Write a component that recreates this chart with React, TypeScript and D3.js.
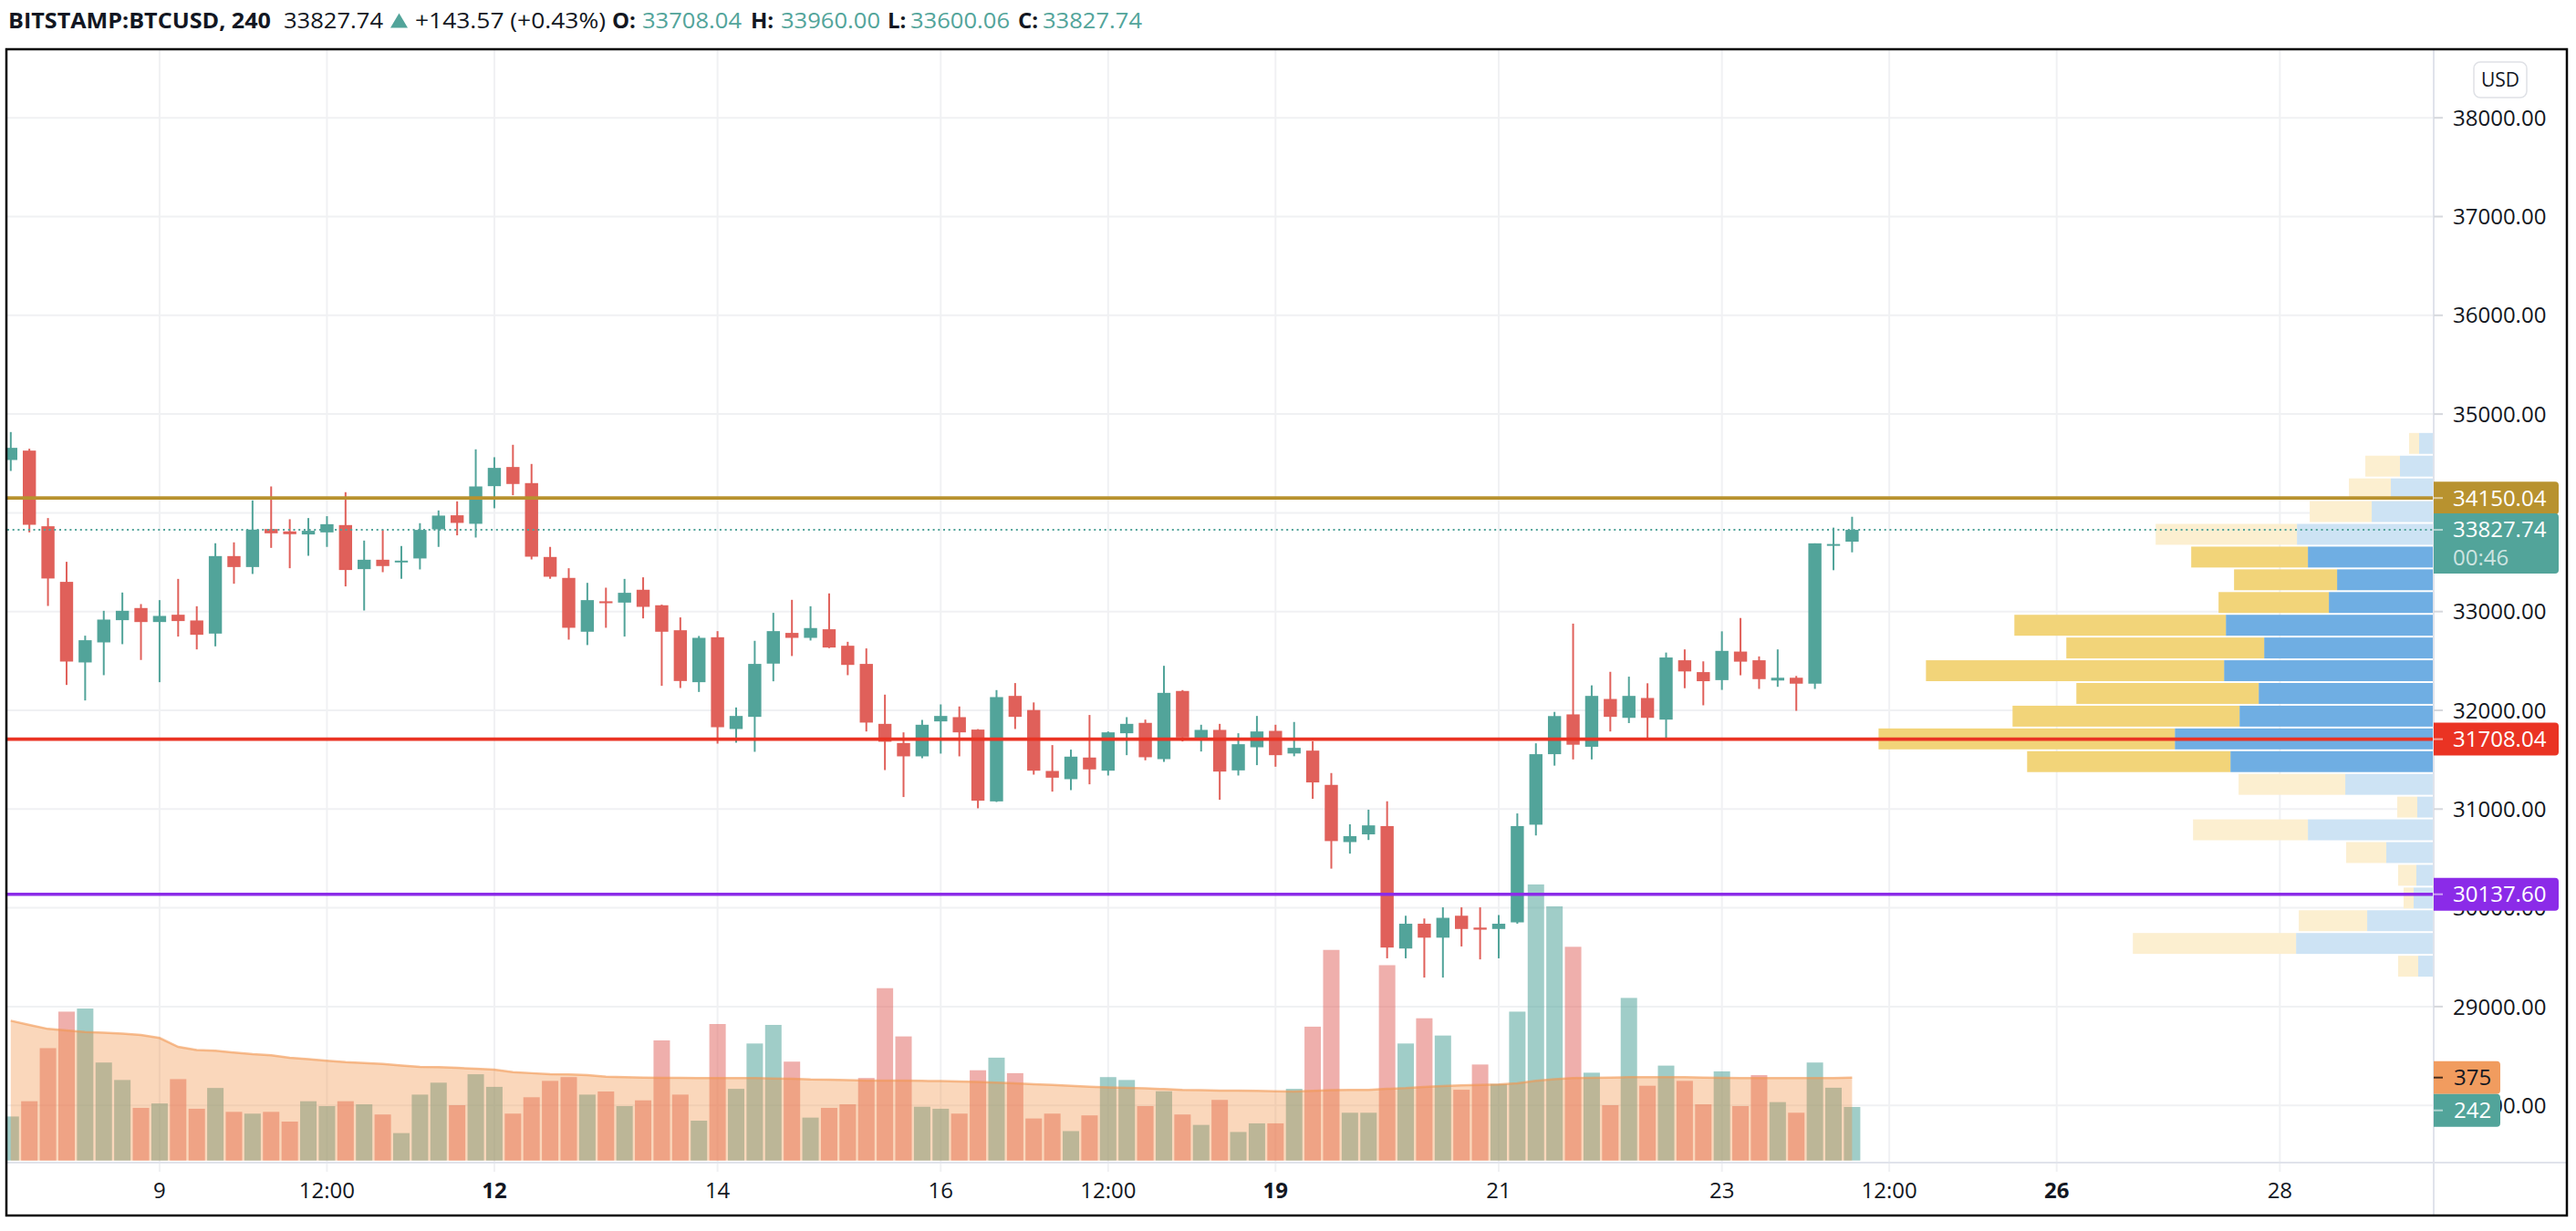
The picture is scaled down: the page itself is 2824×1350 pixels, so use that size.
import React from 'react';
import * as d3 from 'd3';

// ---------- DATA (4h BTCUSD bars, Bitstamp) ----------
const FIRST_BAR = new Date(2021, 5, 7, 16, 0);
const BAR_MS = 4 * 3600 * 1000;

const OPEN = [
  34535, 34630, 33864, 33301, 32485, 32688, 32913, 33036, 32894, 32968,
  32910, 32777, 33562, 33451, 33836, 33812, 33781, 33802, 33876, 33430,
  33525, 33501, 33538, 33833, 33975, 33889, 34270, 34464, 34301, 33553,
  33341, 32796, 33104, 33091, 33221, 33064, 32811, 32285, 32740, 31811,
  31934, 32473, 32784, 32734, 32821, 32654, 32470, 31863, 31669, 31534,
  31888, 31931, 31805, 31078, 32146, 32003, 31386, 31303, 31522, 31389,
  31768, 31873, 31506, 32196, 31722, 31802, 31392, 31626, 31792, 31563,
  31592, 31245, 30666, 30744, 30828, 29588, 29839, 29698, 29920, 29800,
  29786, 29853, 30842, 31556, 31959, 31631, 32115, 31924, 32125, 31906,
  32507, 32387, 32306, 32595, 32507, 32302, 32330, 32270, 33668, 33708.04,
];
const HIGH = [
  34818, 34649, 33947, 33504, 32756, 33008, 33193, 33076, 33116, 33331,
  33054, 33692, 33701, 34126, 34267, 33935, 33947, 33966, 34209, 33719,
  33827, 33664, 33895, 34024, 34116, 34643, 34563, 34689, 34495, 33655,
  33439, 33291, 33242, 33331, 33347, 33070, 32941, 32753, 32802, 32029,
  32704, 32987, 33119, 33054, 33184, 32694, 32627, 32159, 31777, 31903,
  32060, 32039, 31810, 32205, 32276, 32080, 31648, 31602, 31953, 31786,
  31931, 31906, 32451, 32205, 31854, 31863, 31768, 31943, 31854, 31882,
  31687, 31365, 30846, 30994, 31079, 29920, 29892, 30005, 30005, 30005,
  29927, 30956, 31666, 31984, 32878, 32253, 32390, 32341, 32274, 32585,
  32617, 32496, 32800, 32935, 32546, 32617, 32348, 33691, 33850, 33960.0,
];
const LOW = [
  34424, 33802, 33057, 32257, 32100, 32356, 32670, 32510, 32285, 32747,
  32617, 32648, 33282, 33381, 33645, 33439, 33565, 33655, 33255, 33011,
  33399, 33332, 33427, 33655, 33772, 33750, 34046, 34178, 33528, 33332,
  32716, 32661, 32836, 32747, 32931, 32248, 32226, 32186, 31663, 31672,
  31580, 32294, 32550, 32707, 32630, 32356, 31786, 31395, 31122, 31515,
  31562, 31534, 31008, 31072, 31811, 31349, 31177, 31192, 31251, 31340,
  31546, 31494, 31478, 31685, 31583, 31094, 31340, 31445, 31429, 31535,
  31104, 30397, 30549, 30687, 29489, 29489, 29294, 29294, 29609, 29478,
  29489, 29839, 30733, 31440, 31503, 31503, 31786, 31871, 31705, 31719,
  32224, 32051, 32207, 32355, 32217, 32238, 31995, 32217, 33419, 33600.06,
];
const CLOSE = [
  34658, 33879, 33335, 32494, 32710, 32919, 33008, 32894, 32956, 32904,
  32765, 33562, 33451, 33830, 33793, 33784, 33818, 33885, 33421, 33525,
  33461, 33516, 33827, 33972, 33898, 34267, 34455, 34292, 33556, 33353,
  32836, 33116, 33085, 33190, 33048, 32796, 32297, 32734, 31829, 31943,
  32470, 32802, 32734, 32833, 32636, 32460, 31876, 31682, 31534, 31854,
  31943, 31777, 31085, 32134, 31934, 31389, 31318, 31531, 31402, 31777,
  31863, 31525, 32177, 31725, 31802, 31380, 31657, 31786, 31546, 31620,
  31270, 30676, 30726, 30835, 29598, 29839, 29698, 29899, 29786, 29779,
  29839, 30828, 31556, 31942, 31652, 32146, 31934, 32146, 31924, 32535,
  32394, 32295, 32602, 32493, 32316, 32330, 32270, 33691, 33684.17, 33827.74,
];
const VOLUME = [
  199, 268, 508, 673, 687, 443, 364, 238, 258, 368,
  234, 328, 220, 212, 220, 176, 268, 246, 268, 254,
  208, 124, 298, 352, 250, 390, 333, 212, 286, 360,
  377, 298, 312, 246, 272, 543, 298, 180, 617, 324,
  529, 613, 447, 194, 238, 254, 373, 779, 561, 243,
  234, 212, 408, 465, 395, 190, 212, 133, 204, 377,
  364, 246, 313, 208, 161, 274, 129, 168, 168, 324,
  605, 952, 216, 216, 883, 529, 643, 565, 320, 434,
  346, 673, 1248, 1149, 966, 397, 250, 735, 338, 429,
  360, 254, 403, 246, 386, 264, 216, 443, 329, 242,
];
const VOLUME_MA = [
  632, 613, 595, 588, 581, 578, 574, 568, 554, 514,
  500, 496, 488, 481, 476, 465, 458, 451, 445, 441,
  437, 430, 423, 422, 419, 415, 411, 400, 395, 390,
  389, 386, 379, 377, 375, 374, 374, 373, 373, 373,
  373, 371, 370, 367, 366, 364, 362, 362, 362, 360,
  359, 357, 355, 352, 349, 345, 342, 338, 334, 331,
  329, 326, 323, 319, 318, 316, 316, 315, 313, 312,
  315, 318, 319, 319, 324, 327, 333, 337, 340, 342,
  344, 349, 360, 368, 373, 374, 375, 377, 377, 377,
  377, 375, 374, 373, 373, 373, 373, 373, 373, 375,
];
// Volume profile, rows from the highest price bin to the lowest
const PROFILE_UP = [15, 36, 46, 67, 149, 137, 105, 114, 227, 185, 229, 191, 212, 283, 222, 96, 17, 137, 51, 18, 21, 72, 150, 16];
const PROFILE_DOWN = [11, 38, 46, 68, 155, 128, 113, 121, 232, 217, 327, 200, 249, 325, 223, 117, 22, 126, 44, 20, 11, 75, 179, 22];
const VALUE_AREA_ROWS = [5, 14];

const PRICE_TICKS = [38000, 37000, 36000, 35000, 34000, 33000, 32000, 31000, 30000, 29000, 28000];
const TIME_TICKS = [
  { label: '9', date: new Date(2021, 5, 9, 0), bold: false },
  { label: '12:00', date: new Date(2021, 5, 10, 12), bold: false },
  { label: '12', date: new Date(2021, 5, 12, 0), bold: true },
  { label: '14', date: new Date(2021, 5, 14, 0), bold: false },
  { label: '16', date: new Date(2021, 5, 16, 0), bold: false },
  { label: '12:00', date: new Date(2021, 5, 17, 12), bold: false },
  { label: '19', date: new Date(2021, 5, 19, 0), bold: true },
  { label: '21', date: new Date(2021, 5, 21, 0), bold: false },
  { label: '23', date: new Date(2021, 5, 23, 0), bold: false },
  { label: '12:00', date: new Date(2021, 5, 24, 12), bold: false },
  { label: '26', date: new Date(2021, 5, 26, 0), bold: true },
  { label: '28', date: new Date(2021, 5, 28, 0), bold: false },
];
const LEVEL_PRICES = [34150.04, 31708.04, 30137.6];
const LEVEL_COLORS = ['#b8922f', '#ea3323', '#8b2be8'];
const SYMBOL = 'BITSTAMP:BTCUSD, 240';
const CHANGE = '+143.57 (+0.43%)';
const COUNTDOWN = '00:46';

// ---------- STYLE ----------
const TEAL = '#52a49a';
const RED = '#e0605a';
const DARK = '#131722';
const GRID = '#f0f1f3';
const AXIS_LINE = '#e0e3eb';
const FONT = "'Open Sans', 'Noto Sans', 'DejaVu Sans', sans-serif";

function rightRounded(x0: number, y0: number, w: number, h: number, r: number) {
  return `M${x0},${y0}H${x0 + w - r}Q${x0 + w},${y0} ${x0 + w},${y0 + r}V${y0 + h - r}Q${x0 + w},${y0 + h} ${x0 + w - r},${y0 + h}H${x0}Z`;
}

export default function App() {
  const times = CLOSE.map((_, i) => new Date(FIRST_BAR.getTime() + i * BAR_MS));
  const x = d3.scaleTime().domain([times[0], times[times.length - 1]]).range([11.8, 2030.4]);
  const y = d3.scaleLinear().domain([28000, 38000]).range([1212.2, 129.2]);
  const vy = d3.scaleLinear().domain([0, 1000]).range([1272.7, 1030.1]);

  const pane = { left: 8, top: 55, right: 2667, bottom: 1274 };
  const axisX = 2668;
  const frame = { left: 7, top: 54, right: 2814, bottom: 1333 };
  const bodyW = 14.4;
  const volW = 18;

  const area = d3.area<number>().x((_, i) => x(times[i])).y0(vy(0)).y1((d) => vy(d));
  const maLine = d3.line<number>().x((_, i) => x(times[i])).y((d) => vy(d));

  // volume profile
  const pHigh = d3.max(HIGH) as number;
  const pLow = d3.min(LOW) as number;
  const nRows = PROFILE_UP.length;
  const step = (pHigh - pLow) / nRows;
  const totals = PROFILE_UP.map((u, i) => u + PROFILE_DOWN[i]);
  const pw = d3.scaleLinear().domain([0, d3.max(totals) as number]).range([0, 607.6]);

  const lastClose = CLOSE[CLOSE.length - 1];
  const lastVol = VOLUME[VOLUME.length - 1];
  const lastMA = VOLUME_MA[VOLUME_MA.length - 1];
  const boxW = 137;
  const boxH = 36;
  const volBoxW = 73;
  const yMA = vy(lastMA);
  const yVol = Math.max(vy(lastVol), yMA + boxH);

  // label boxes on the price axis: [top, bottom]
  const boxes: [number, number][] = [
    ...LEVEL_PRICES.map((p) => [y(p) - boxH / 2, y(p) + boxH / 2] as [number, number]),
    [y(lastClose) - boxH / 2, y(lastClose) - boxH / 2 + 66],
  ];
  const covered = (v: number) => boxes.some(([bt, bb]) => v >= bt - 0.5 && v <= bb + 0.5);
  // tick labels completely hidden behind the label boxes are not drawn
  const visibleTicks = PRICE_TICKS.filter((p) => !(covered(y(p) - 9) && covered(y(p)) && covered(y(p) + 9)));

  const fmt = d3.format('.2f');

  return (
    <svg width={2824} height={1350} style={{ position: 'absolute', left: 0, top: 0, display: 'block', background: '#fff' }}
      fontFamily={FONT}>
      <defs>
        <clipPath id="pane">
          <rect x={pane.left} y={pane.top} width={pane.right - pane.left} height={pane.bottom - pane.top} />
        </clipPath>
      </defs>
      <rect x={0} y={0} width={2824} height={1350} fill="#fff" />

      {/* header */}
      <g fontSize={24}>
        <text x={9} y={31} fontWeight="bold" fill={DARK} textLength={288} lengthAdjust="spacingAndGlyphs">{SYMBOL}</text>
        <text x={311} y={31} fill={DARK} textLength={109} lengthAdjust="spacingAndGlyphs">{fmt(lastClose)}</text>
        <path d="M428,30.5L447,30.5L437.5,14.5Z" fill={TEAL} />
        <text x={455} y={31} fill={DARK} textLength={209} lengthAdjust="spacingAndGlyphs">{CHANGE}</text>
        {[
          ['O:', 671, OPEN[OPEN.length - 1]],
          ['H:', 823, HIGH[HIGH.length - 1]],
          ['L:', 973, LOW[LOW.length - 1]],
          ['C:', 1116, lastClose],
        ].map(([k, px, v]) => {
          const labelW = k === 'L:' ? 25 : k === 'C:' ? 27 : 33;
          return (
            <g key={k as string}>
              <text x={px as number} y={31} fontWeight="bold" fill={DARK}>{k as string}</text>
              <text x={(px as number) + labelW} y={31} fill={TEAL} textLength={109} lengthAdjust="spacingAndGlyphs">{fmt(v as number)}</text>
            </g>
          );
        })}
      </g>

      {/* grid */}
      <g>
        {PRICE_TICKS.map((p) => (
          <line key={'hg' + p} x1={pane.left} x2={pane.right} y1={y(p)} y2={y(p)} stroke={GRID} strokeWidth={2} />
        ))}
        {TIME_TICKS.map((t, i) => (
          <line key={'vg' + i} x1={x(t.date)} x2={x(t.date)} y1={pane.top} y2={1285} stroke={GRID} strokeWidth={2} />
        ))}
      </g>

      <g clipPath="url(#pane)">
        {/* volume bars */}
        {VOLUME.map((v, i) => (
          <rect key={'v' + i} x={x(times[i]) - volW / 2} width={volW} y={vy(v)} height={vy(0) - vy(v)}
            fill={CLOSE[i] >= OPEN[i] ? 'rgba(82,164,154,0.55)' : 'rgba(224,96,90,0.5)'} />
        ))}
        {/* volume MA area */}
        <path d={area(VOLUME_MA) as string} fill="rgba(242,140,60,0.35)" />
        <path d={maLine(VOLUME_MA) as string} fill="none" stroke="rgba(242,150,80,0.6)" strokeWidth={2.5} />

        {/* volume profile */}
        {PROFILE_UP.map((u, i) => {
          const top = y(pHigh - i * step);
          const bot = y(pHigh - (i + 1) * step);
          const inVA = i >= VALUE_AREA_ROWS[0] && i <= VALUE_AREA_ROWS[1];
          const wu = pw(u);
          const wd = pw(PROFILE_DOWN[i]);
          return (
            <g key={'vp' + i}>
              <rect x={pane.right - wu} width={wu} y={top + 1} height={bot - top - 2} fill={inVA ? '#6faee3' : '#cde3f4'} />
              <rect x={pane.right - wu - wd} width={wd} y={top + 1} height={bot - top - 2} fill={inVA ? '#f2d479' : '#fcefd0'} />
            </g>
          );
        })}

        {/* candles */}
        {CLOSE.map((c, i) => {
          const o = OPEN[i];
          const up = c >= o;
          const col = up ? TEAL : RED;
          const cx = x(times[i]);
          const yt = y(Math.max(o, c));
          const yb = y(Math.min(o, c));
          return (
            <g key={'c' + i}>
              <line x1={cx} x2={cx} y1={y(HIGH[i])} y2={y(LOW[i])} stroke={col} strokeWidth={2} />
              <rect x={cx - bodyW / 2} width={bodyW} y={yt} height={Math.max(2, yb - yt)} fill={col} />
            </g>
          );
        })}

        {/* horizontal levels */}
        {LEVEL_PRICES.map((p, i) => (
          <line key={'lv' + i} x1={pane.left} x2={pane.right} y1={y(p)} y2={y(p)} stroke={LEVEL_COLORS[i]} strokeWidth={3.6} />
        ))}
        {/* last price dotted line */}
        <line x1={pane.left} x2={pane.right} y1={y(lastClose)} y2={y(lastClose)} stroke={TEAL} strokeWidth={2} strokeDasharray="2 3.7" />
      </g>

      {/* axis separators */}
      <line x1={axisX} x2={axisX} y1={frame.top} y2={frame.bottom} stroke={AXIS_LINE} strokeWidth={2} />
      <line x1={frame.left} x2={frame.right} y1={1275} y2={1275} stroke={AXIS_LINE} strokeWidth={2} />

      {/* price axis labels */}
      <g fontSize={24} fill={DARK}>
        {PRICE_TICKS.map((p) => (
          <line key={'tk' + p} x1={axisX} x2={axisX + 10} y1={y(p)} y2={y(p)} stroke="#d6d8dd" strokeWidth={2} />
        ))}
        {visibleTicks.map((p) => (
          <text key={'pt' + p} x={2689} y={y(p)} dy="0.36em">{fmt(p)}</text>
        ))}
      </g>

      {/* USD badge */}
      <rect x={2712} y={68} width={58} height={39} rx={7} fill="#fff" stroke="#dfe1e6" strokeWidth={1.5} />
      <text x={2741} y={87.5} dy="0.36em" textAnchor="middle" fontSize={21} fill={DARK}>USD</text>

      {/* level labels */}
      {LEVEL_PRICES.map((p, i) => (
        <g key={'lb' + i}>
          <path d={rightRounded(axisX, y(p) - boxH / 2, boxW, boxH, 4)} fill={LEVEL_COLORS[i]} />
          <line x1={axisX} x2={axisX + 10} y1={y(p)} y2={y(p)} stroke="rgba(255,255,255,0.55)" strokeWidth={2} />
          <text x={2689} y={y(p)} dy="0.36em" fontSize={24} fill="#fff">{fmt(p)}</text>
        </g>
      ))}
      {/* last price label with countdown */}
      <g>
        <path d={rightRounded(axisX, y(lastClose) - boxH / 2, boxW, 66, 4)} fill={TEAL} />
        <line x1={axisX} x2={axisX + 10} y1={y(lastClose)} y2={y(lastClose)} stroke="rgba(255,255,255,0.55)" strokeWidth={2} />
        <text x={2689} y={y(lastClose) - 1} dy="0.36em" fontSize={24} fill="#fff">{fmt(lastClose)}</text>
        <text x={2689} y={y(lastClose) + 30} dy="0.36em" fontSize={24} fill="rgba(255,255,255,0.72)">{COUNTDOWN}</text>
      </g>
      {/* volume labels */}
      <g>
        <path d={rightRounded(axisX, yMA - boxH / 2, volBoxW, boxH, 4)} fill="#f19c5f" />
        <line x1={axisX} x2={axisX + 10} y1={yMA} y2={yMA} stroke="rgba(0,0,0,0.7)" strokeWidth={2} />
        <text x={2690} y={yMA} dy="0.36em" fontSize={24} fill={DARK}>{lastMA}</text>
        <path d={rightRounded(axisX, yVol - boxH / 2, volBoxW, boxH, 4)} fill={TEAL} />
        <line x1={axisX} x2={axisX + 10} y1={yVol} y2={yVol} stroke="rgba(255,255,255,0.55)" strokeWidth={2} />
        <text x={2690} y={yVol} dy="0.36em" fontSize={24} fill="#fff">{lastVol}</text>
      </g>

      {/* time axis labels */}
      <g fontSize={24} fill={DARK} textAnchor="middle">
        {TIME_TICKS.map((t, i) => (
          <text key={'tl' + i} x={x(t.date)} y={1305.5} dy="0.36em" fontWeight={t.bold ? 'bold' : 'normal'}>{t.label}</text>
        ))}
      </g>

      {/* frame */}
      <rect x={frame.left} y={frame.top} width={frame.right - frame.left} height={frame.bottom - frame.top}
        fill="none" stroke="#000" strokeWidth={2.5} />
    </svg>
  );
}
